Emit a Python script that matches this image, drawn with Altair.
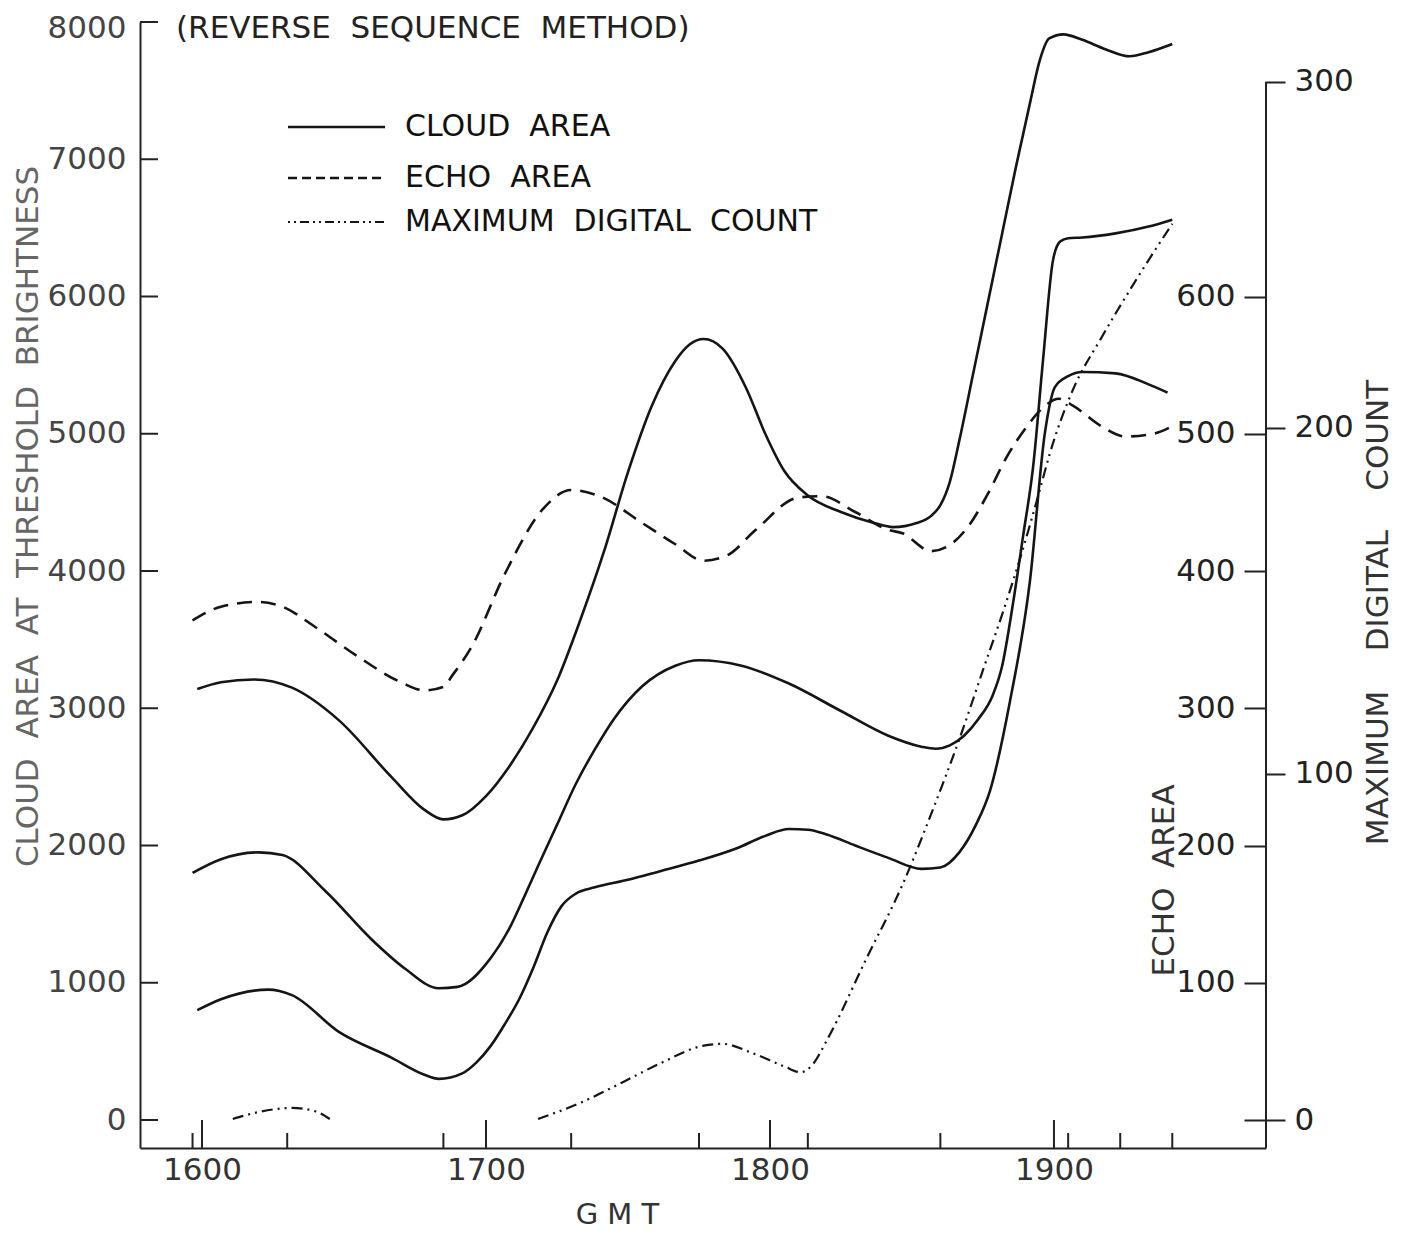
import altair as alt
import pandas as pd

FONT = "DejaVu Sans"
INK = "#151515"
SP2 = "\u00a0 "          # wider word gap
SP4 = "\u00a0\u00a0\u00a0 "

# ---- data (time in minutes after 1600 GMT) ----
hour_ticks = [0, 60, 120, 180]
obs_times = [-2, 18, 51, 78, 105, 128, 156, 183, 194, 205]
cloud_ticks = [0, 1000, 2000, 3000, 4000, 5000, 6000, 7000, 8000]
echo_ticks = [0, 100, 200, 300, 400, 500, 600]
count_ticks = [0, 100, 200, 300]

# cloud area, three threshold curves
A_t = [-1, 4, 11, 19, 29, 40, 47, 51, 55, 60, 65, 70, 75, 80, 85, 90, 95, 100, 103, 106,
       110, 115, 119, 123, 128, 135, 142, 146, 151, 154, 156, 158, 160, 163, 166, 169, 172,
       175, 177, 179, 182, 186, 191, 196, 200, 205]
A_v = [3140, 3190, 3210, 3150, 2910, 2500, 2260, 2190, 2220, 2360, 2580, 2860, 3200, 3650,
       4150, 4720, 5200, 5530, 5650, 5690, 5620, 5330, 5000, 4730, 4550, 4430, 4350, 4320,
       4350, 4400, 4480, 4650, 4950, 5450, 5950, 6450, 6950, 7420, 7720, 7880, 7910, 7870,
       7800, 7750, 7780, 7840]

B_t = [-2, 4, 12, 17, 26, 36, 43, 50, 54, 61, 65, 68, 71, 75, 79, 83, 87, 93, 100, 105,
       114, 124, 135, 145, 152, 155, 158, 161, 164, 167, 169, 171.4, 173.5, 175.6, 177.7,
       179.8, 181.3, 183, 186, 193, 200, 205]
B_v = [1800, 1900, 1950, 1930, 1670, 1310, 1100, 960, 970, 1180, 1400, 1620, 1850, 2150,
       2450, 2700, 2920, 3160, 3310, 3350, 3310, 3180, 2980, 2800, 2720, 2705, 2730, 2800,
       2920, 3090, 3300, 3775, 4260, 4760, 5540, 6265, 6400, 6425, 6430, 6460, 6510, 6560]

C_t = [-1, 4, 14, 19, 29, 40, 47, 50, 55, 58, 61, 64, 67, 70, 73, 76, 79, 83, 90, 97, 105,
       113, 119, 124, 128, 132, 138, 145, 152, 156, 160, 163.5, 166.5, 170.7, 174.9, 178.1,
       180.2, 183, 186, 193, 200, 204]
C_v = [800, 880, 950, 910, 640, 455, 330, 300, 340, 420, 540, 700, 880, 1110, 1370, 1560,
       1650, 1695, 1750, 1815, 1890, 1980, 2070, 2120, 2115, 2080, 2000, 1910, 1830, 1840,
       1950, 2150, 2400, 3050, 3920, 5010, 5340, 5420, 5450, 5440, 5360, 5300]

# echo area
D_t = [-2, 4, 12, 17, 24, 33, 42, 47, 51, 53, 57, 64, 72, 78, 84, 93, 100, 106, 111, 117,
       126, 131, 138, 145, 148, 154, 158, 162, 166, 170, 174, 178, 181, 184, 190, 195, 201, 205]
D_v = [364, 374, 377.5, 374, 359, 337.5, 319, 313, 315.5, 324.5, 345, 398, 445, 459, 454.5,
       435, 419.5, 407.5, 411.5, 430, 453.5, 454.5, 443, 430, 427.5, 414.5, 419, 433, 456,
       483, 504, 520, 525.5, 520.5, 505.5, 498, 500, 505.5]

# maximum digital count (two drawn pieces)
E1_t = [6.5, 12, 19, 24, 27]
E1_v = [0.3, 2.3, 3.5, 2.5, 0.3]
E2_t = [71, 80, 89, 97, 106, 110, 116, 123, 126.5, 129, 132, 140.5, 148, 154.5, 160, 165,
        170, 173, 177, 179, 184, 190, 197, 205]
E2_v = [0.3, 5, 11, 16.5, 21.5, 22, 19.5, 15.5, 13.8, 16, 23, 47, 68, 90, 110, 130, 150,
        163, 182, 192, 211, 226, 242, 259]

cloud_df = pd.concat([
    pd.DataFrame({"t": A_t, "v": A_v, "series": "A"}),
    pd.DataFrame({"t": B_t, "v": B_v, "series": "B"}),
    pd.DataFrame({"t": C_t, "v": C_v, "series": "C"}),
])
echo_df = pd.DataFrame({"t": D_t, "echo": D_v})
count_df = pd.concat([
    pd.DataFrame({"t": E1_t, "c": E1_v, "seg": "1"}),
    pd.DataFrame({"t": E2_t, "c": E2_v, "seg": "2"}),
])

W, H = 1126, 1126

x_scale = alt.Scale(domain=[-13.1, 224.8], nice=False, zero=False)
cloud_scale = alt.Scale(domain=[-204, 8000], nice=False, zero=False)
echo_scale = alt.Scale(domain=[-20.4, 800], nice=False, zero=False)
count_scale = alt.Scale(domain=[-8.09, 317.3], nice=False, zero=False)

x_axis = alt.Axis(
    orient="bottom", values=hour_ticks, ticks=False, tickSize=0, grid=False, labelPadding=7,
    labelExpr="'' + (1600 + datum.value * 100 / 60)", labelFont=FONT, labelFontSize=31,
    labelColor="#333", labelFlush=False, labelOverlap=False,
    domainColor="#222", domainWidth=2,
    title="G M T", titleFont=FONT, titleFontSize=29, titleFontWeight="normal",
    titleColor="#333", titleX=477, titleY=66, titleAlign="center", titleBaseline="middle",
)
cloud_axis = alt.Axis(
    orient="left", values=cloud_ticks, ticks=False, tickSize=0, grid=False,
    labelPadding=14, format="d", labelFont=FONT, labelFontSize=31, labelColor="#444",
    labelOffset={"condition": {"test": "datum.value === 8000", "value": 6}, "value": 0},
    labelFlush=False, labelOverlap=False, domainColor="#222", domainWidth=2,
    title="CLOUD" + SP2 + "AREA" + SP2 + "AT" + SP2 + "THRESHOLD" + SP2 + "BRIGHTNESS",
    titleFont=FONT, titleFontSize=31, titleFontWeight="normal", titleColor="#666",
    titleAngle=270, titleX=-112, titleY=494, titleAlign="center", titleBaseline="middle",
)
echo_axis = alt.Axis(
    orient="left", offset=-W, values=echo_ticks, tickSize=22, tickWidth=2, tickColor="#222",
    grid=False, domain=False, labelPadding=9, format="d",
    labelExpr="datum.value == 0 ? '' : datum.label", labelFont=FONT, labelFontSize=31,
    labelColor="#222", labelFlush=False, labelOverlap=False,
    title="ECHO" + SP2 + "AREA", titleFont=FONT, titleFontSize=31, titleFontWeight="normal",
    titleColor="#333", titleAngle=270, titleX=-102, titleY=858, titleAlign="center",
    titleBaseline="middle",
)
count_axis = alt.Axis(
    orient="right", values=count_ticks, tickSize=19, tickWidth=2, tickColor="#222",
    grid=False, domain=False, labelPadding=9, format="d", labelFont=FONT, labelFontSize=31,
    labelColor="#222", labelFlush=False, labelOverlap=False,
    title="MAXIMUM" + SP4 + "DIGITAL" + SP4 + "COUNT", titleFont=FONT, titleFontSize=31,
    titleFontWeight="normal", titleColor="#333", titleAngle=270, titleX=112, titleY=590,
    titleAlign="center", titleBaseline="middle",
)

def X():
    return alt.X("t:Q", scale=x_scale, axis=x_axis)

# ---- cloud area group ----
cloud_lines = alt.Chart(cloud_df).mark_line(
    interpolate="monotone", color=INK, strokeWidth=2.6
).encode(
    x=X(),
    y=alt.Y("v:Q", scale=cloud_scale, axis=cloud_axis),
    detail="series:N",
)
cloud_tick_rules = alt.Chart(pd.DataFrame({"v": cloud_ticks})).mark_rule(
    color="#222", strokeWidth=2
).encode(
    y=alt.Y("v:Q", scale=cloud_scale, axis=cloud_axis),
    x=alt.value(0), x2=alt.value(18),
)
cloud_group = alt.layer(cloud_lines, cloud_tick_rules)

# ---- echo area ----
echo_line = alt.Chart(echo_df).mark_line(
    interpolate="monotone", color=INK, strokeWidth=2.6, strokeDash=[15, 9]
).encode(
    x=X(),
    y=alt.Y("echo:Q", scale=echo_scale, axis=echo_axis),
)

# ---- maximum digital count group ----
count_line = alt.Chart(count_df).mark_line(
    interpolate="monotone", color=INK, strokeWidth=2.2, strokeDash=[11, 5, 2, 5, 2, 5]
).encode(
    x=X(),
    y=alt.Y("c:Q", scale=count_scale, axis=count_axis),
    detail="seg:N",
)
right_line = alt.Chart(pd.DataFrame({"c": [count_ticks[-1]]})).mark_rule(
    color="#222", strokeWidth=2
).encode(
    x=alt.value(W),
    y=alt.Y("c:Q", scale=count_scale, axis=count_axis),
    y2=alt.value(H),
)
count_group = alt.layer(count_line, right_line)

# ---- inward x ticks ----
tall_ticks = alt.Chart(pd.DataFrame({"t": hour_ticks})).mark_rule(
    color="#222", strokeWidth=2
).encode(x=X(), y=alt.value(H), y2=alt.value(H - 28))
short_ticks = alt.Chart(pd.DataFrame({"t": obs_times})).mark_rule(
    color="#222", strokeWidth=2
).encode(x=X(), y=alt.value(H), y2=alt.value(H - 15))

# ---- in-plot legend and title ----
one = pd.DataFrame({"k": [0]})
leg_solid = alt.Chart(one).mark_rule(color=INK, strokeWidth=2.6).encode(
    x=alt.value(148), x2=alt.value(245), y=alt.value(105))
leg_dash = alt.Chart(one).mark_rule(color=INK, strokeWidth=2.4, strokeDash=[9, 5]).encode(
    x=alt.value(148), x2=alt.value(245), y=alt.value(156))
leg_dd = alt.Chart(one).mark_rule(color=INK, strokeWidth=2, strokeDash=[2, 4, 2, 4, 9, 4]).encode(
    x=alt.value(148), x2=alt.value(245), y=alt.value(200))

def leg_text(txt, y):
    return alt.Chart(one).mark_text(
        text=txt, font=FONT, fontSize=30, color="#111", align="left", baseline="middle"
    ).encode(x=alt.value(265), y=alt.value(y))

title_txt = alt.Chart(one).mark_text(
    text="(REVERSE" + SP2 + "SEQUENCE" + SP2 + "METHOD)", font=FONT, fontSize=31,
    color="#222", align="left", baseline="alphabetic"
).encode(x=alt.value(36), y=alt.value(16))

chart = alt.layer(
    cloud_group, echo_line, count_group, tall_ticks, short_ticks,
    leg_solid, leg_dash, leg_dd,
    leg_text("CLOUD" + SP2 + "AREA", 105), leg_text("ECHO" + SP2 + "AREA", 156),
    leg_text("MAXIMUM" + SP2 + "DIGITAL" + SP2 + "COUNT", 200),
    title_txt,
).resolve_scale(y="independent").properties(
    width=W, height=H,
    autosize=alt.AutoSizeParams(type="none"),
    padding={"left": 132, "top": 14, "right": 130, "bottom": 86},
    background="white",
).configure_view(stroke=None)

chart.save("out.html", embed_options={"renderer": "svg", "actions": False})
